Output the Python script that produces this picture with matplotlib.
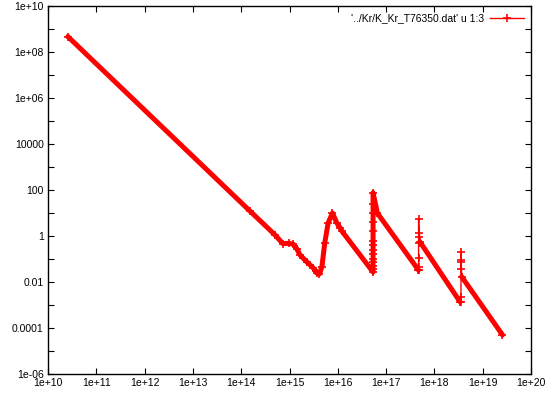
import matplotlib
matplotlib.use("Agg")
import matplotlib.pyplot as plt
from matplotlib.lines import Line2D
from matplotlib.ticker import FixedLocator, FixedFormatter, NullFormatter

# Data (x = energy-like variable, y = column 3)
x_vals = [2.57e10, 1.51e14, 5.0e14, 7.24e14, 9.55e14, 1.20e15, 1.41e15,
          1.66e15, 2.29e15, 3.09e15, 3.63e15, 4.17e15, 4.68e15, 5.37e15,
          6.31e15, 7.76e15, 9.55e15, 1.12e16, 1.23e16,
          5.37e16, 5.37e16, 5.37e16, 5.37e16, 5.37e16, 5.37e16, 5.37e16,
          5.37e16, 5.37e16, 5.37e16, 5.37e16, 5.37e16, 5.37e16, 5.37e16,
          6.61e16, 4.68e17,
          4.70e17, 4.70e17, 4.70e17, 4.70e17, 4.70e17, 4.70e17, 4.70e17,
          5.01e17, 3.39e18,
          3.55e18, 3.55e18, 3.55e18, 3.55e18, 3.55e18, 3.55e18,
          3.67e18, 2.57e19]
y_vals = [4.7e8, 12.3, 1.12, 0.47, 0.48, 0.44, 0.28,
          0.148, 0.074, 0.041, 0.025, 0.0224, 0.045, 0.50,
          3.7, 10.0, 3.7, 2.24, 1.58,
          0.027, 0.037, 0.05, 0.072, 0.10, 0.16, 0.25, 0.40, 0.63, 1.58,
          4.0, 10.0, 25.0, 76.0,
          9.8, 0.033,
          0.033, 0.045, 0.11, 0.50, 0.91, 1.35, 5.4,
          0.56, 0.00138,
          0.00138, 0.0023, 0.035, 0.076, 0.091, 0.21,
          0.017, 5.0e-5]

# index ranges of the densely sampled stretches of the curve
dense_runs = [(0, 35), (42, 44), (50, 52)]

legend_label = "'../Kr/K_Kr_T76350.dat' u 1:3"
x_major = [1e10, 1e11, 1e12, 1e13, 1e14, 1e15, 1e16, 1e17, 1e18, 1e19, 1e20]
x_labels = ["1e+10", "1e+11", "1e+12", "1e+13", "1e+14", "1e+15", "1e+16",
            "1e+17", "1e+18", "1e+19", "1e+20"]
y_major = [1e-6, 1e-4, 1e-2, 1, 1e2, 1e4, 1e6, 1e8, 1e10]
y_labels = ["1e-06", "0.0001", "0.01", "1", "100", "10000", "1e+06",
            "1e+08", "1e+10"]
y_minor = [1e-5, 1e-3, 1e-1, 1e1, 1e3, 1e5, 1e7, 1e9]

plt.rcParams['font.family'] = ['Liberation Sans', 'DejaVu Sans']

fig = plt.figure(figsize=(5.45, 3.99), dpi=100)
ax = fig.add_axes([48/545, 1 - 374/399, (531 - 48)/545, (374 - 6)/399])

red = '#ff0000'
# thin line through all points
ax.plot(x_vals, y_vals, color=red, lw=1.0)
# dense stretches look like a thick band
for a, b in dense_runs:
    ax.plot(x_vals[a:b], y_vals[a:b], color=red, lw=3.6,
            solid_joinstyle='round', solid_capstyle='round')
ax.plot(x_vals, y_vals, color=red, ls='none', marker='+',
        markersize=6, markeredgewidth=1.2)

ax.set_xscale('log')
ax.set_yscale('log')
ax.set_xlim(1e10, 1e20)
ax.set_ylim(1e-6, 1e10)

ax.xaxis.set_major_locator(FixedLocator(x_major))
ax.xaxis.set_major_formatter(FixedFormatter(x_labels))
ax.xaxis.set_minor_locator(FixedLocator([]))
ax.yaxis.set_major_locator(FixedLocator(y_major))
ax.yaxis.set_major_formatter(FixedFormatter(y_labels))
ax.yaxis.set_minor_locator(FixedLocator(y_minor))
ax.yaxis.set_minor_formatter(NullFormatter())

ax.tick_params(which='both', direction='in', top=True, right=True,
               labelsize=7.5, width=0.8, pad=3, colors='black')
ax.tick_params(which='major', length=4.5)
ax.tick_params(which='minor', length=4.5)
for s in ax.spines.values():
    s.set_linewidth(1.0)

handle = Line2D([], [], color=red, lw=1.0, marker='+', markersize=6,
                markeredgewidth=1.2)
ax.legend([handle], [legend_label], loc='upper right', frameon=False,
          markerfirst=False, fontsize=7.5, handlelength=3.2,
          borderaxespad=0.3, handletextpad=0.6)

fig.savefig('out.png', dpi=100)
